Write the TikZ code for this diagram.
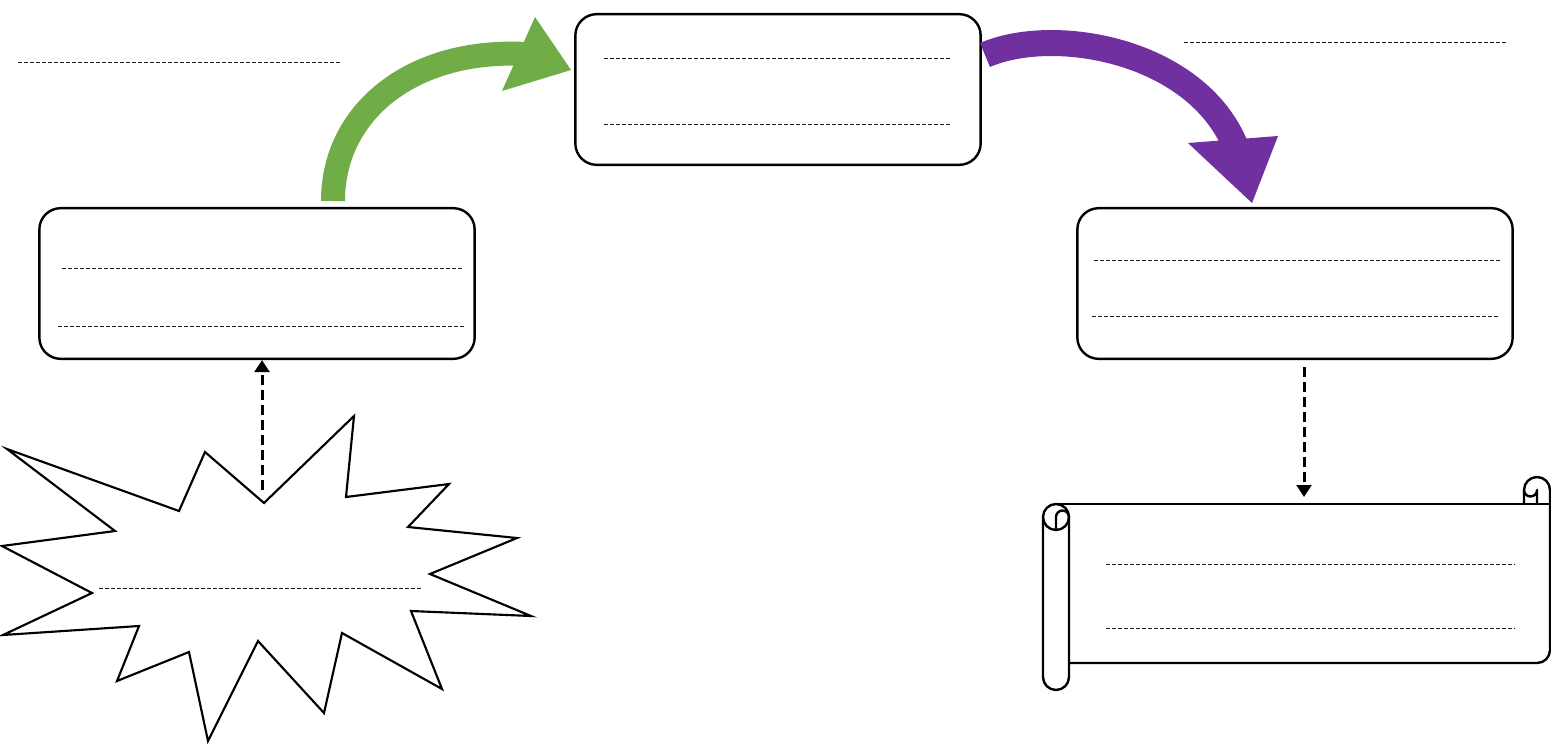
\documentclass[tikz,border=0pt]{standalone}
\usetikzlibrary{arrows.meta}
\definecolor{grn}{HTML}{70AD47}
\definecolor{prp}{HTML}{7030A0}
\begin{document}
\begin{tikzpicture}[x=0.75pt,y=-0.75pt,
  box/.style={draw, line width=1.8pt, rounded corners=16pt, minimum width=#1,
    minimum height=113pt, inner sep=0pt, fill=white},
  txtline/.style={draw=black!90, line width=0.65pt, dash pattern=on 3pt off 1.5pt},
  dasharrow/.style={line width=2.25pt, dash pattern=on 7.5pt off 3.75pt,
    -{Triangle[length=9pt,width=11pt]}},
  outline/.style={line width=1.6pt, line join=miter, line cap=round}]
\fill[white] (0,0) rectangle (1551,743);
\useasboundingbox (0,0) rectangle (1551,743);

% free text placeholders
\draw[txtline] (18,62) -- (342,62);
\draw[txtline] (1184,42) -- (1508,42);

% boxes
\node[box=326.5pt] (A) at (257,283.5) {};
\node[box=304pt] (B) at (778,89.5) {};
\node[box=326.5pt] (C) at (1295,283.5) {};

\draw[txtline] (62,268) -- (462,268);
\draw[txtline] (58,326) -- (466,326);
\draw[txtline] (604,58) -- (950,58);
\draw[txtline] (604,124) -- (950,124);
\draw[txtline] (1094,260) -- (1502,260);
\draw[txtline] (1092,316) -- (1500,316);

% green curved arrow A -> B
\coordinate (gS) at (333,201);
\coordinate (gE) at (526,54);
\draw[grn, line width=18pt] (gS) .. controls (333,112) and (412,48) .. (gE);
\fill[grn] (535,17) -- (571,70) -- (502,91) -- cycle;

% purple curved arrow B -> C
\coordinate (pS) at (985,55);
\coordinate (pE) at (1235,145);
\draw[prp, line width=19.5pt] (pS) .. controls (1054,25) and (1195,50) .. (pE);
\fill[prp] (1188,143) -- (1278,136) -- (1252,203) -- cycle;

% starburst
\draw[outline, fill=white] (7,449) -- (179,511) -- (205,452) -- (264,503) -- (354,416)
  -- (346,497) -- (449,484) -- (408,527) -- (517,538) -- (430,574) -- (531,616)
  -- (411,611) -- (442,689) -- (342,633) -- (324,713) -- (258,641) -- (208,741)
  -- (189,652) -- (117,681) -- (139,626) -- (3,635) -- (92,593) -- (2,546)
  -- (115,531) -- cycle;
\draw[txtline] (99,588) -- (422,588);
\coordinate (burstTop) at (262,490);
\draw[dasharrow] (burstTop) -- (burstTop |- A.south);

% scroll
\coordinate (cBot) at (1304,367);
\coordinate (sTop) at (1304,497);
\draw[dasharrow] (cBot) -- (sTop);
\begin{scope}[line width=1.8pt, line join=round]
  % body
  \draw (1056,504) -- (1550,504);
  \draw (1550,490) -- (1550,650) arc[start angle=0, end angle=-90, radius=9.75pt] -- (1069,663);
  % right curl
  \draw (1524,504) -- (1524,490) arc[start angle=180, end angle=0, radius=9.75pt];
  \draw (1524,490) arc[start angle=180, end angle=360, radius=4.875pt] -- (1537,504);
  % left roll
  \draw[fill=white] (1043,517) -- (1043,677) arc[start angle=180, end angle=360, radius=9.75pt] -- (1069,517);
  \draw (1056,517) circle[radius=9.75pt];
  \draw (1056,530) -- (1056,517) arc[start angle=180, end angle=0, radius=4.875pt];
\end{scope}
\draw[txtline] (1106,564) -- (1515,564);
\draw[txtline] (1106,628) -- (1515,628);
\end{tikzpicture}
\end{document}
